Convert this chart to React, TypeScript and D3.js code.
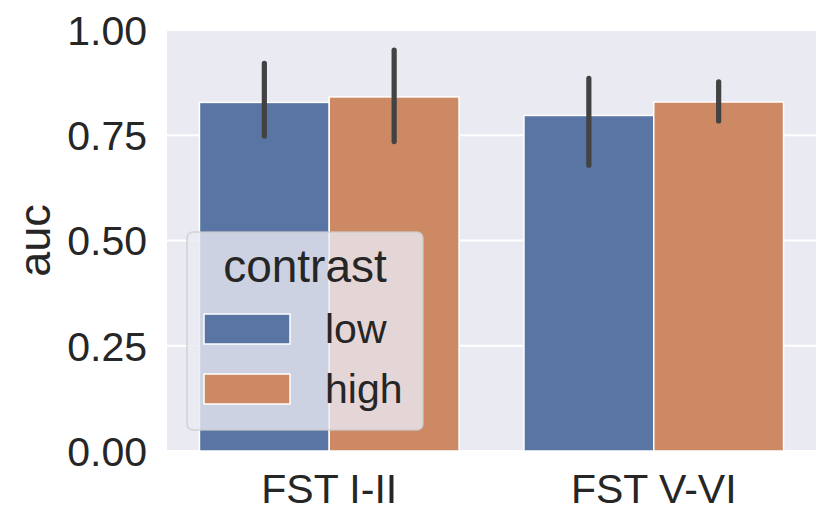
import { useEffect, useRef } from 'react';
import * as d3 from 'd3';

const categories = ['FST I-II', 'FST V-VI'];
const hues = ['low', 'high'];
const means = [
  [0.828, 0.841],
  [0.797, 0.829],
];
const ciLow = [
  [0.748, 0.735],
  [0.679, 0.784],
];
const ciHigh = [
  [0.921, 0.952],
  [0.885, 0.877],
];
const yTicks = [0, 0.25, 0.5, 0.75, 1.0];
const colors = ['#5975a4', '#cc8963'];

const W = 831;
const H = 524;
const FONT = 'Arial, "Liberation Sans", sans-serif';

export default function App() {
  const svgRef = useRef<SVGSVGElement>(null);

  useEffect(() => {
    if (!svgRef.current) return;
    const svg = d3.select(svgRef.current);
    svg.selectAll('*').remove();

    const margin = { top: 30, right: 15, bottom: 73, left: 167 };
    const innerW = W - margin.left - margin.right;
    const innerH = H - margin.top - margin.bottom;

    const g = svg
      .append('g')
      .attr('transform', `translate(${margin.left},${margin.top})`);

    g.append('rect')
      .attr('width', innerW)
      .attr('height', innerH)
      .attr('fill', '#eaeaf2');

    const y = d3.scaleLinear().domain([0, 1]).range([innerH, 0]);
    const x0 = d3.scaleBand<string>().domain(categories).range([0, innerW]).paddingInner(0.2).paddingOuter(0.1);
    const x1 = d3.scaleBand<string>().domain(hues).range([0, x0.bandwidth()]);

    // grid
    g.selectAll('line.grid')
      .data(yTicks)
      .join('line')
      .attr('class', 'grid')
      .attr('x1', 0)
      .attr('x2', innerW)
      .attr('y1', (d) => y(d))
      .attr('y2', (d) => y(d))
      .attr('stroke', '#ffffff')
      .attr('stroke-width', 2);

    // bars
    categories.forEach((cat, ci) => {
      hues.forEach((h, hi) => {
        const bx = (x0(cat) ?? 0) + (x1(h) ?? 0);
        g.append('rect')
          .attr('x', bx)
          .attr('y', y(means[ci][hi]))
          .attr('width', x1.bandwidth())
          .attr('height', y(0) - y(means[ci][hi]))
          .attr('fill', colors[hi])
          .attr('stroke', '#ffffff')
          .attr('stroke-width', 1.5);
      });
    });

    // error bars
    categories.forEach((cat, ci) => {
      hues.forEach((h, hi) => {
        const cx = (x0(cat) ?? 0) + (x1(h) ?? 0) + x1.bandwidth() / 2;
        g.append('line')
          .attr('x1', cx)
          .attr('x2', cx)
          .attr('y1', y(ciLow[ci][hi]))
          .attr('y2', y(ciHigh[ci][hi]))
          .attr('stroke', '#424242')
          .attr('stroke-width', 5.2)
          .attr('stroke-linecap', 'round');
      });
    });

    // y tick labels
    g.selectAll('text.ytick')
      .data(yTicks)
      .join('text')
      .attr('class', 'ytick')
      .attr('x', -20)
      .attr('y', (d) => y(d))
      .attr('dy', '0.36em')
      .attr('text-anchor', 'end')
      .attr('font-family', FONT)
      .attr('font-size', 41)
      .attr('fill', '#262626')
      .text((d) => d3.format('.2f')(d));

    // x tick labels
    g.selectAll('text.xtick')
      .data(categories)
      .join('text')
      .attr('class', 'xtick')
      .attr('x', (d) => (x0(d) ?? 0) + x0.bandwidth() / 2)
      .attr('y', innerH + 52)
      .attr('text-anchor', 'middle')
      .attr('font-family', FONT)
      .attr('font-size', 41)
      .attr('fill', '#262626')
      .text((d) => d);

    // y label
    svg
      .append('text')
      .attr('transform', `translate(50,${margin.top + innerH / 2}) rotate(-90)`)
      .attr('text-anchor', 'middle')
      .attr('font-family', FONT)
      .attr('font-size', 45)
      .attr('fill', '#262626')
      .text('auc');

    // legend
    const lg = svg.append('g').attr('transform', 'translate(187,232)');
    lg.append('rect')
      .attr('width', 236)
      .attr('height', 198)
      .attr('rx', 6)
      .attr('fill', '#eaeaf2')
      .attr('fill-opacity', 0.8)
      .attr('stroke', '#cccccc')
      .attr('stroke-opacity', 0.8)
      .attr('stroke-width', 1.5);
    lg.append('text')
      .attr('x', 118)
      .attr('y', 50)
      .attr('text-anchor', 'middle')
      .attr('font-family', FONT)
      .attr('font-size', 46)
      .attr('fill', '#262626')
      .text('contrast');
    hues.forEach((h, i) => {
      const row = lg.append('g').attr('transform', `translate(0,${82 + i * 60})`);
      row.append('rect')
        .attr('x', 17)
        .attr('y', 0)
        .attr('width', 86)
        .attr('height', 30)
        .attr('fill', colors[i])
        .attr('stroke', '#ffffff')
        .attr('stroke-width', 1.5);
      row.append('text')
        .attr('x', 138)
        .attr('y', 29)
        .attr('font-family', FONT)
        .attr('font-size', 41)
        .attr('fill', '#262626')
        .text(h);
    });
  }, []);

  return (
    <svg
      ref={svgRef}
      width={W}
      height={H}
      style={{ position: 'absolute', left: 0, top: 0, background: '#ffffff' }}
    />
  );
}
